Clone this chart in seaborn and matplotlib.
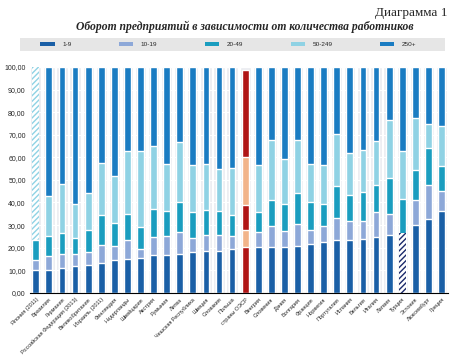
import numpy as np
import pandas as pd
import matplotlib
matplotlib.use('Agg')
import matplotlib.pyplot as plt
import seaborn as sns
from matplotlib.patches import Patch, Rectangle

# Країни / категорії
countries = ['Япония (2011)', 'Бразилия', 'Германия', 'Российская Федерация (2013)',
             'Великобритания', 'Израиль (2011)', 'Финляндия', 'Нидерланды', 'Швейцария',
             'Австрия', 'Румыния', 'Литва', 'Чешская Республика', 'Швеция', 'Словакия',
             'Польша', 'страны ОЭСР', 'Венгрия', 'Словения', 'Дания', 'Болгария',
             'Франция', 'Норвегия', 'Португалия', 'Испания', 'Бельгия', 'Италия',
             'Латвия', 'Турция', 'Эстония', 'Люксембург', 'Греция']

# Доля оборота по размеру предприятия (%)
s_1_9 = [9.9, 10.0, 10.9, 11.8, 12.2, 13.0, 14.7, 15.2, 15.6, 16.8, 16.8, 17.4, 18.1, 18.4, 18.4, 19.6,
         20.1, 20.1, 20.5, 20.5, 20.9, 21.8, 22.3, 23.2, 23.6, 24.0, 24.8, 25.8, 26.7, 30.1, 32.7, 36.3]
s_10_19 = [4.8, 6.2, 6.2, 5.2, 6.1, 8.2, 5.9, 8.1, 3.7, 8.0, 8.4, 9.6, 6.1, 7.1, 7.1, 5.6,
           7.8, 6.9, 9.3, 6.9, 9.5, 6.2, 7.1, 9.8, 8.0, 8.0, 11.0, 9.2, 0.0, 11.1, 15.2, 8.8]
s_20_49 = [8.5, 8.9, 9.3, 7.2, 9.3, 13.3, 10.5, 11.7, 9.8, 12.1, 11.2, 13.0, 11.5, 11.1, 10.6, 9.3,
           11.0, 8.8, 11.1, 12.1, 13.6, 12.0, 10.1, 14.3, 11.5, 12.8, 12.1, 16.0, 14.9, 13.2, 16.0, 11.1]
s_50_249 = [0.0, 17.7, 21.8, 15.3, 16.6, 23.0, 20.5, 27.7, 33.9, 28.3, 20.7, 26.8, 20.8, 20.5, 18.8, 20.7,
            21.4, 21.0, 26.8, 19.9, 23.7, 17.2, 17.3, 22.8, 18.6, 18.3, 19.5, 25.5, 21.4, 23.0, 10.7, 17.8]
s_250 = [76.8, 57.2, 51.8, 60.5, 55.8, 42.5, 48.4, 37.3, 37.0, 34.8, 42.9, 33.2, 43.5, 42.9, 45.1, 44.8,
         38.5, 43.2, 32.3, 40.6, 32.3, 42.8, 43.2, 29.9, 38.3, 36.9, 32.6, 23.5, 37.0, 22.6, 25.4, 26.0]

groups = ['1-9', '10-19', '20-49', '50-249', '250+']
colors = ['#1a5fa6', '#8da8d8', '#1a9dbf', '#8fd2e4', '#1a7cc2']
oecd_colors = ['#b01515', '#f2b48a', '#b01515', '#f2b48a', '#b01515']

df = pd.DataFrame({'country': countries, '1-9': s_1_9, '10-19': s_10_19,
                   '20-49': s_20_49, '50-249': s_50_249, '250+': s_250})
cum = df[groups].cumsum(axis=1)
cum['country'] = df['country']
cum['fon'] = 100.0

sns.set_style('white')
plt.rcParams['font.family'] = ['Liberation Sans', 'DejaVu Sans']

fig = plt.figure(figsize=(4.53, 3.58), dpi=100)
ax = fig.add_axes([0.066, 0.182, 0.923, 0.631])

# Сірі смуги фону
sns.barplot(data=cum, x='country', y='fon', color='#e8ebf0', width=0.86,
            order=countries, ax=ax, zorder=0)
for y in range(10, 100, 10):
    ax.axhline(y, color='white', lw=0.8, zorder=1)

# Накопичені стовпці, зверху вниз
layer_patches = {}
for g, c in reversed(list(zip(groups, colors))):
    n_before = len(ax.patches)
    sns.barplot(data=cum, x='country', y=g, color=c, width=0.52, order=countries,
                ax=ax, saturation=1, zorder=2)
    layer_patches[g] = ax.patches[n_before:]

# ОЭСР - окремі кольори
i_oecd = countries.index('страны ОЭСР')
for g, c in zip(groups, oecd_colors):
    layer_patches[g][i_oecd].set_facecolor(c)

# Японія - штрихування 50+
i_jp = countries.index('Япония (2011)')
p = layer_patches['250+'][i_jp]
p.set_facecolor('white')
p.set_edgecolor('#8fd2e4')
p.set_hatch('//////')
p.set_linewidth(0)

# Туреччина - штрихування 1-19
i_tr = countries.index('Турция')
for g in ['1-9', '10-19']:
    p = layer_patches[g][i_tr]
    p.set_facecolor('white')
    p.set_edgecolor('#1b2a6b')
    p.set_hatch('//////')
    p.set_linewidth(0)

ax.set_ylim(0, 100)
ax.set_xlim(-0.45, 31.5)
ax.set_yticks(range(0, 101, 10))
ax.set_yticklabels([f'{v},00' for v in range(0, 101, 10)], fontsize=5)
ax.set_xticks(range(len(countries)))
ax.set_xticklabels(countries, rotation=45, ha='right', rotation_mode='anchor', fontsize=4.0)
ax.set_xlabel('')
ax.set_ylabel('')
for s in ['top', 'right', 'left']:
    ax.spines[s].set_visible(False)
ax.spines['bottom'].set_color('black')
ax.spines['bottom'].set_linewidth(0.8)
ax.tick_params(axis='x', length=2, width=0.6, color='black', pad=1)
ax.tick_params(axis='y', length=0, pad=3)

# Легенда: сіра смуга + легенда без рамки
fig.patches.append(Rectangle((20 / 453, 1 - 51 / 358), 425 / 453, 13 / 358,
                             transform=fig.transFigure, facecolor='#e6e6e6',
                             edgecolor='none', zorder=0))
handles = [Patch(facecolor=c, edgecolor='none') for c in colors]
leg = fig.legend(handles, groups, loc='center left',
                 bbox_to_anchor=(36 / 453, 1 - 51 / 358, 385 / 453, 13 / 358),
                 mode='expand', ncol=5, fontsize=4.6, frameon=False,
                 handlelength=2.2, handleheight=0.6, borderpad=0.2, handletextpad=1.2)

fig.text(0.987, 0.965, 'Диаграмма 1', ha='right', va='center', fontsize=9.5,
         family=['Liberation Serif', 'DejaVu Serif'])
fig.text(0.54, 0.925, 'Оборот предприятий в зависимости от количества работников',
         ha='center', va='center', fontsize=8.4, fontweight='bold', fontstyle='italic',
         family=['Liberation Serif', 'DejaVu Serif'])

fig.savefig('out.png', dpi=100)
